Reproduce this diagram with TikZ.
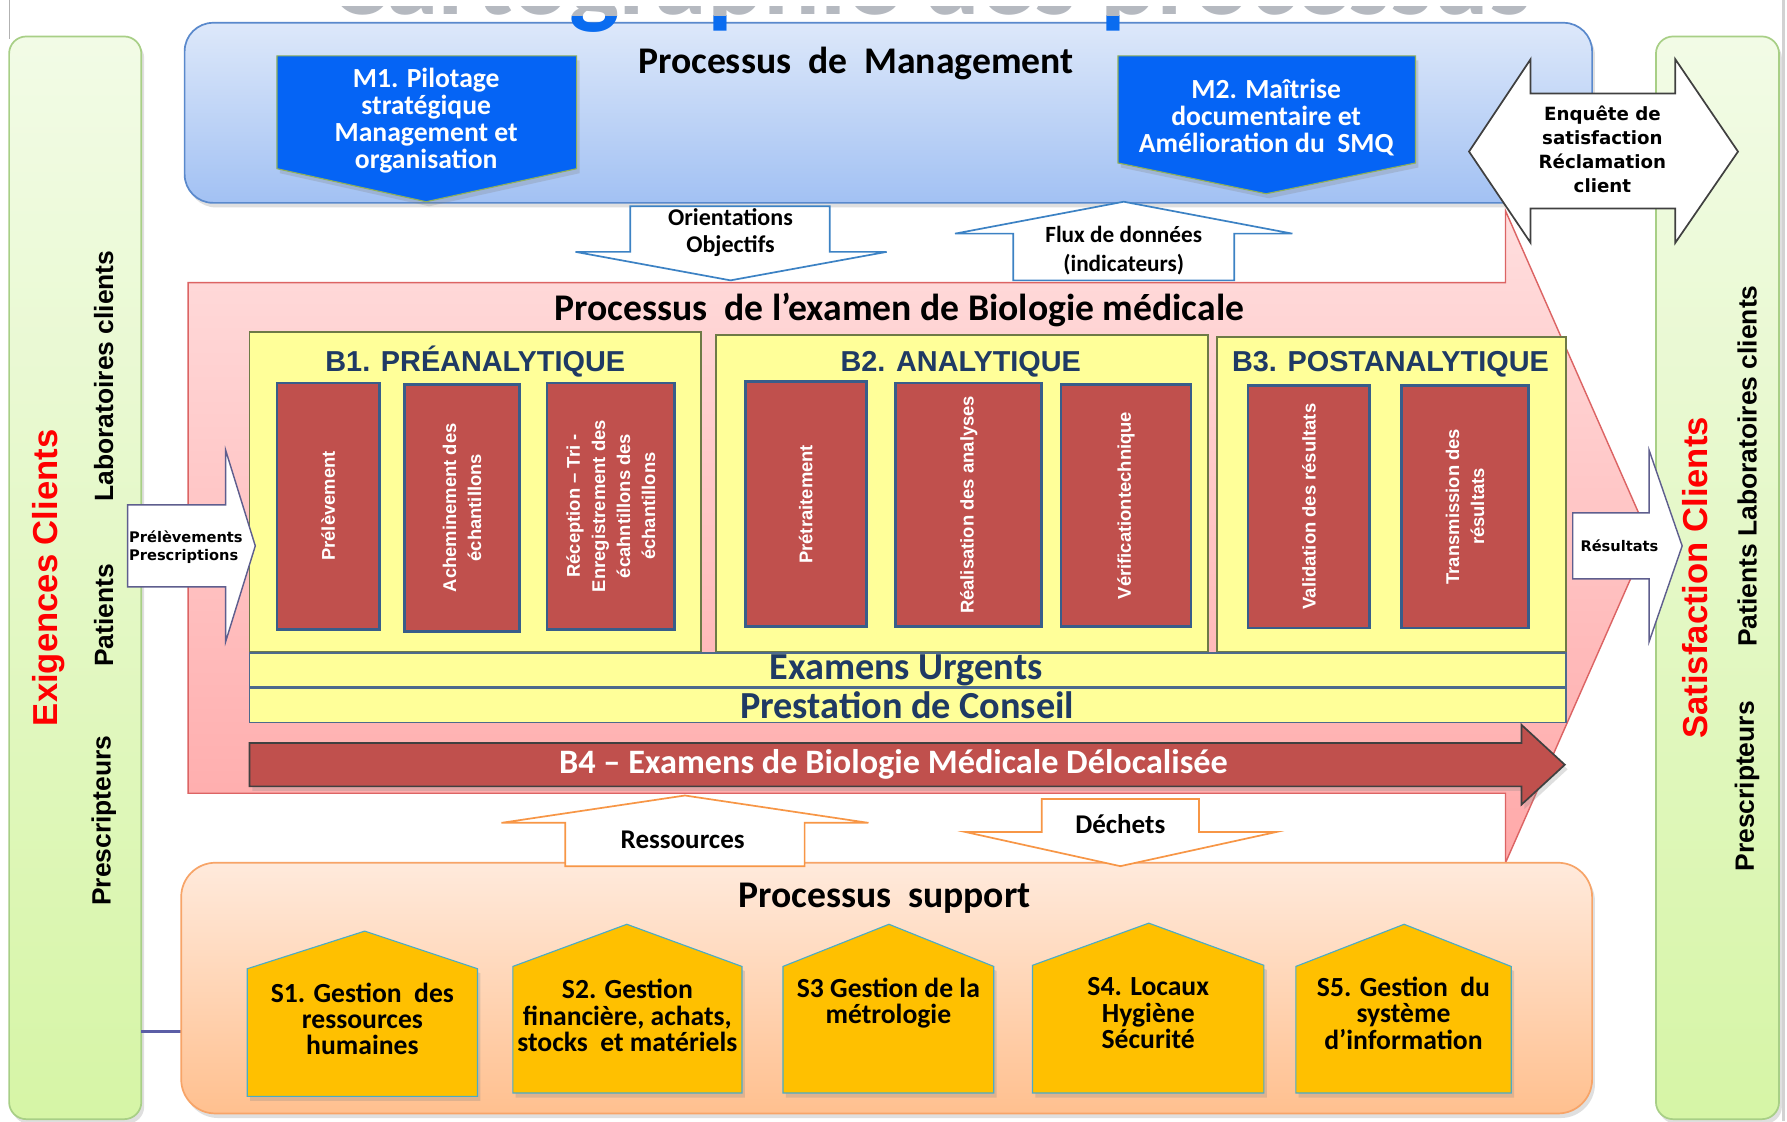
\documentclass[tikz,border=0pt]{standalone}
\usepackage{fontspec}
\setmainfont{Carlito}
\newfontfamily\arialfont{Liberation Sans}
\newfontfamily\verdanafont{DejaVu Sans}
\usetikzlibrary{shadows}

\definecolor{mgmttop}{HTML}{DDE8FA}
\definecolor{mgmtbot}{HTML}{A2C1F3}
\definecolor{mgmtline}{HTML}{5A89CC}
\definecolor{mblue}{HTML}{0564F5}
\definecolor{mtrim}{HTML}{8FB05A}
\definecolor{biotop}{HTML}{FFDEDE}
\definecolor{biobot}{HTML}{FFA9A9}
\definecolor{bioline}{HTML}{DC6464}
\definecolor{lemon}{HTML}{FFFF99}
\definecolor{lemonline}{HTML}{6E7A46}
\definecolor{barline}{HTML}{4D6A8C}
\definecolor{brick}{HTML}{C0504D}
\definecolor{brickline}{HTML}{385D8A}
\definecolor{textnavy}{HTML}{1F3A64}
\definecolor{suptop}{HTML}{FFEADC}
\definecolor{supbot}{HTML}{FFC08F}
\definecolor{supline}{HTML}{F7A468}
\definecolor{amber}{HTML}{FFC000}
\definecolor{housetrim}{HTML}{4BACC6}
\definecolor{flowblue}{HTML}{3C82C4}
\definecolor{floworange}{HTML}{F79646}
\definecolor{slate}{HTML}{5E5E8E}
\definecolor{leaftop}{HTML}{F2FBE6}
\definecolor{leafbot}{HTML}{D6F5A6}
\definecolor{leafline}{HTML}{A8CF86}
\definecolor{linkblue}{HTML}{5B5EA6}
\definecolor{titleblue}{HTML}{0A6CF0}
\definecolor{titlegray}{HTML}{B5B9C0}

\tikzset{
  ptitle/.style={font=\bfseries\fontsize{18.8}{21}\selectfont, inner sep=0pt},
  bigtitle/.style={font=\bfseries\fontsize{52.9}{60}\selectfont, inner sep=0pt},
  mtext/.style={text=white, font=\bfseries\fontsize{13.8}{13.5}\selectfont, align=center, inner sep=0pt},
  stext/.style={font=\bfseries\fontsize{13.8}{13.1}\selectfont, align=center, inner sep=0pt},
  flowtext/.style={font=\bfseries\fontsize{12}{13.1}\selectfont, align=center, inner sep=0pt},
  bhead/.style={text=textnavy, font=\arialfont\bfseries\fontsize{14.4}{16}\selectfont, inner sep=0pt},
  barhead/.style={text=textnavy, font=\bfseries\fontsize{19.1}{21}\selectfont, inner sep=0pt},
  redtext/.style={text=white, rotate=90, font=\arialfont\bfseries\fontsize{9.2}{12.5}\selectfont, align=center, inner sep=0pt},
  redbox/.style={fill=brick, draw=brickline, line width=0.5mm},
  lemonbox/.style={fill=lemon, draw=lemonline, line width=0.3mm},
  sidetext/.style={rotate=90, font=\arialfont\bfseries\fontsize{13.2}{15}\selectfont, inner sep=0pt},
  sidehead/.style={rotate=90, text=red, font=\arialfont\bfseries\fontsize{17.3}{19}\selectfont, inner sep=0pt},
  smalltext/.style={font=\verdanafont\bfseries\fontsize{7.3}{9.1}\selectfont, inner sep=0pt},
  softshadow/.style={drop shadow={shadow xshift=0.5mm, shadow yshift=-0.8mm, opacity=0.25}},
}

\begin{document}
\begin{tikzpicture}[x=0.2mm, y=-0.2mm]
	\useasboundingbox[fill=white] (0,0) rectangle (1568,984);
	% page edges
	\draw[gray!35, line width=0.6mm] (1565,0) -- (1565,984);
	\draw[gray!60, line width=0.2mm] (8,0) -- (8,34);

	% client columns
	\shade[softshadow, draw=leafline, line width=0.3mm, top color=leaftop, bottom color=leafbot, rounded corners=3mm] (8,32) rectangle (124,982);
	\shade[softshadow, draw=leafline, line width=0.3mm, top color=leaftop, bottom color=leafbot, rounded corners=3mm] (1453,32) rectangle (1561,982);
	\node[sidehead] (exig) at (43,507) {Exigences Clients};
	\node[sidetext] (labL) at (91,330) {Laboratoires clients};
	\node[sidetext] (patL) at (91,540) {Patients};
	\node[sidetext] (preL) at (91,720) {Prescripteurs};
	\node[sidehead] (satis) at (1487,507) {Satisfaction Clients};
	\node[sidetext] (patR) at (1533,409) {Patients Laboratoires clients};
	\node[sidetext] (preR) at (1533,690) {Prescripteurs};
	\coordinate (linkA) at (124,905);
	\coordinate (linkB) at (160,905);
	\draw[linkblue, line width=0.6mm] (linkA) -- (linkB);

	% Management
	\shade[softshadow, draw=mgmtline, line width=0.3mm, top color=mgmttop, bottom color=mgmtbot, rounded corners=5mm] (162,20) rectangle (1397,178);
	\node[ptitle] (mgmt) at (751,56) {Processus\ \ de\ \ Management};
	\fill[softshadow, fill=mblue, draw=mtrim, line width=0.2mm] (243,49) -- (506,49) -- (506,148) -- (374,177) -- (243,148) -- cycle;
	\node[mtext] (m1) at (374,106) {M1. Pilotage\\stratégique\\Management et\\organisation};
	\fill[softshadow, fill=mblue, draw=mtrim, line width=0.2mm] (981,49) -- (1242,49) -- (1242,143) -- (1111,170) -- (981,143) -- cycle;
	\node[mtext] (m2) at (1111,103) {M2. Maîtrise\\documentaire et\\Amélioration du\ \ SMQ};

	% Biology process arrow
	\shade[draw=bioline, line width=0.25mm, top color=biotop, bottom color=biobot] (165,248) -- (1321,248) -- (1321,185) -- (1447,471) -- (1321,757) -- (1321,696) -- (165,696) -- cycle;
	\node[ptitle] (bio) at (789,272) {Processus\ \ de l’examen de Biologie médicale};
	\draw[lemonbox] (219,291) rectangle (615,572);
	\draw[lemonbox] (628,294) rectangle (1060,572);
	\draw[lemonbox] (1068,296) rectangle (1374,572);
	\node[bhead] (b1) at (417,317) {B1. PRÉANALYTIQUE};
	\node[bhead] (b2) at (843,320) {B2. ANALYTIQUE};
	\node[bhead] (b3) at (1220,320) {B3. POSTANALYTIQUE};
	\foreach \xa/\ya/\xb/\yb/\nm/\txt in {
		243/336/333/552/r1/{Prélèvement},
		355/337/456/554/r2/{Acheminement des\\échantillons},
		480/336/592/552/r3/{Réception – Tri -\\Enregistrement des\\écahntillons des\\échantillons},
		654/335/760/550/r4/{Prétraitement},
		786/336/914/550/r5/{Réalisation des analyses},
		931/337/1045/550/r6/{Vérificationtechnique},
		1095/338/1202/551/r7/{Validation des résultats},
		1230/338/1341/551/r8/{Transmission des\\résultats}}{
		\draw[redbox] (\xa,\ya) rectangle (\xb,\yb);
		\node[redtext] (\nm) at ({(\xa+\xb)/2},{(\ya+\yb)/2}) {\txt};
	}
	\draw[fill=lemon, draw=barline, line width=0.3mm] (219,573) rectangle (1374,603);
	\draw[fill=lemon, draw=barline, line width=0.3mm] (219,604) rectangle (1374,634);
	\node[barhead] (urg) at (795,588) {Examens Urgents};
	\node[barhead] (cons) at (796,619) {Prestation de Conseil};
	% B4
	\fill[softshadow, fill=brick, draw=black!75, line width=0.3mm] (219,652) -- (1335,652) -- (1335,636) -- (1373,671) -- (1335,706) -- (1335,690) -- (219,690) -- cycle;
	\node[text=white, font=\bfseries\fontsize{17.1}{19}\selectfont, inner sep=0pt] (b4) at (784,671) {B4 – Examens de Biologie Médicale Délocalisée};

	% flows management <-> biology
	\draw[fill=white, draw=flowblue, line width=0.3mm] (553,181) -- (728,181) -- (728,221) -- (778,221) -- (641,246) -- (505,221) -- (553,221) -- cycle;
	\node[flowtext] (orient) at (641,204) {Orientations\\Objectifs};
	\draw[fill=white, draw=flowblue, line width=0.3mm] (889,246) -- (889,205) -- (838,205) -- (986,177) -- (1134,205) -- (1083,205) -- (1083,246) -- cycle;
	\node[flowtext, font=\bfseries\fontsize{11.6}{14.8}\selectfont] (flux) at (986,220) {Flux de données\\(indicateurs)};
	% satisfaction
	\draw[fill=white, draw=black!75, line width=0.3mm] (1289,133) -- (1343,52) -- (1343,82) -- (1470,82) -- (1470,52) -- (1525,133) -- (1470,213) -- (1470,183) -- (1343,183) -- (1343,213) -- cycle;
	\node[font=\verdanafont\bfseries\fontsize{9.1}{12}\selectfont, align=center, inner sep=0pt] (enq) at (1406,131) {Enquête de\\satisfaction\\Réclamation\\client};
	% inputs / outputs
	\draw[fill=white, draw=slate, line width=0.25mm] (112,443) -- (198,443) -- (198,395) -- (224,479) -- (198,563) -- (198,515) -- (112,515) -- cycle;
	\node[smalltext, anchor=west, align=left] (presc) at (113,480) {Prélèvements\\Prescriptions};
	\draw[fill=white, draw=slate, line width=0.25mm] (1380,450) -- (1447,450) -- (1447,395) -- (1476,479) -- (1447,563) -- (1447,508) -- (1380,508) -- cycle;
	\node[smalltext] (res) at (1421,479) {Résultats};

	% Support
	\shade[softshadow, draw=supline, line width=0.3mm, top color=suptop, bottom color=supbot, rounded corners=6mm] (159,757) rectangle (1397,977);
	\node[ptitle] (sup) at (776,788) {Processus\ \ support};
	\foreach \xl/\xm/\xr/\yr/\ye/\yb/\yt/\nm/\txt in {
		217/320/419/817/850/962/894/s1/{S1. Gestion\ \ des\\ressources\\humaines},
		450/550/651/811/848/959/891/s2/{S2. Gestion\\financière, achats,\\stocks\ \ et matériels},
		687/780/872/811/848/959/880/s3/{S3 Gestion de la\\métrologie},
		906/1008/1109/810/847/959/889/s4/{S4. Locaux\\Hygiène\\Sécurité},
		1137/1232/1326/811/848/959/889/s5/{S5. Gestion\ \ du\\système\\d’information}}{
		\fill[softshadow, fill=amber, draw=housetrim, line width=0.2mm] (\xl,\yb) -- (\xl,\ye) -- (\xm,\yr) -- (\xr,\ye) -- (\xr,\yb) -- cycle;
		\node[stext] (\nm) at ({(\xl+\xr)/2},\yt) {\txt};
	}
	% flows support <-> biology
	\draw[fill=white, draw=floworange, line width=0.3mm] (496,760) -- (496,722) -- (440,722) -- (601,698) -- (762,722) -- (706,722) -- (706,760) -- cycle;
	\node[flowtext, font=\bfseries\fontsize{13.5}{15}\selectfont] (ress) at (599,737) {Ressources};
	\draw[fill=white, draw=floworange, line width=0.3mm] (914,701) -- (1052,701) -- (1052,730) -- (1120,730) -- (983,760) -- (847,730) -- (914,730) -- cycle;
	\node[flowtext, font=\bfseries\fontsize{13.5}{15}\selectfont] (dech) at (983,723) {Déchets};

	% cut title
	\begin{scope}
		\clip (0,13.5) rectangle (1568,60);
		\node[bigtitle, text=titleblue, anchor=base] (carto) at (817,13) {Cartographie des processus};
	\end{scope}
	\begin{scope}
		\clip (0,6) rectangle (1568,13.5);
		\node[bigtitle, text=titlegray, anchor=base] (cartoshade) at (817,13) {Cartographie des processus};
	\end{scope}
\end{tikzpicture}
\end{document}
